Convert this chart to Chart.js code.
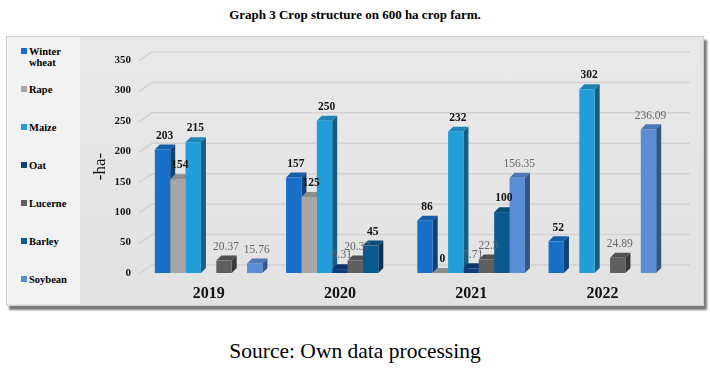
<!DOCTYPE html>
<html>
<head>
<meta charset="utf-8">
<script src="https://cdn.jsdelivr.net/npm/chart.js@4"></script>
<style>
  body { margin: 0; width: 710px; height: 371px; background: #fff; position: relative; overflow: hidden; font-family: "Liberation Serif", serif; }
  #naslov { position: absolute; left: 0; width: 710px; top: 7px; text-align: center; font-weight: bold; font-size: 13px; }
  #okvir { position: absolute; left: 6px; top: 36px; width: 696px; height: 268px; background: #e4e4e4; border: 1px solid #cfcfcf; box-shadow: 3px 4px 2px #7a7a7a; }
  #legenda { position: absolute; left: 7px; top: 37px; width: 73px; height: 267px; background: #f2f2f2; }
  #ploca { position: absolute; left: 80px; top: 40px; width: 620px; height: 264px; background: linear-gradient(#e9e9e9, #e2e2e2); }
  .stavka { position: absolute; left: 14px; font-size: 10.5px; font-weight: bold; line-height: 11px; }
  .kvadrat { display: inline-block; width: 6px; height: 6px; margin-right: 2px; vertical-align: 1px; }
  #izvor { position: absolute; left: 0; width: 710px; top: 339px; text-align: center; font-size: 21.5px; }
</style>
</head>
<body>
<div id="naslov">Graph 3 Crop structure on 600 ha crop farm.</div>
<div id="okvir"></div>
<div id="legenda"></div>
<div id="ploca"><canvas id="graf" width="620" height="264"></canvas></div>
<div id="izvor">Source: Own data processing</div>
<script>
// Godine (kategorije)
const godine = ['2019', '2020', '2021', '2022'];

// Kulture i njihove površine u ha
const kulture = ['Winter wheat', 'Rape', 'Maize', 'Oat', 'Lucerne', 'Barley', 'Soybean'];
const ozimaPsenica = [203, 157, 86, 52];
const uljanaRepica = [154, 125, 0, null];
const kukuruz = [215, 250, 232, 302];
const zob = [null, 6.31, 7.71, null];
const lucerna = [20.37, 20.37, 22.3, 24.89];
const jecam = [null, 45, 100, null];
const soja = [15.76, null, 156.35, 236.09];

const yOznake = [0, 50, 100, 150, 200, 250, 300, 350];

const boje = ['#176fc8', '#a6a6a6', '#239dd9', '#0f3e7c', '#5f5f5f', '#0b5a8e', '#5a8dd6'];
// crne podebljane oznake ili sive
const crneOznake = [true, true, true, false, false, true, false];

const serije = [ozimaPsenica, uljanaRepica, kukuruz, zob, lucerna, jecam, soja];

// Legenda lijevo
const legendaEl = document.getElementById('legenda');
const legendaY = [9, 47, 85, 123, 161, 199, 237];
kulture.forEach((k, i) => {
    const d = document.createElement('div');
    d.className = 'stavka';
    d.style.top = legendaY[i] + 'px';
    const tekst = k === 'Winter wheat' ? 'Winter<br>&nbsp;&nbsp;&nbsp;wheat' : k;
    d.innerHTML = '<span class="kvadrat" style="background:' + boje[i] + '"></span>' + tekst;
    legendaEl.appendChild(d);
});

function potamni(hex, f) {
    const n = parseInt(hex.slice(1), 16);
    const r = Math.round(((n >> 16) & 255) * f), g = Math.round(((n >> 8) & 255) * f), b = Math.round((n & 255) * f);
    return 'rgb(' + Math.min(r, 255) + ',' + Math.min(g, 255) + ',' + Math.min(b, 255) + ')';
}

const DUB = 5;

// Perspektivne linije mreže
const mreza = {
    id: 'mreza',
    beforeDatasetsDraw(chart) {
        const { ctx, chartArea, scales } = chart;
        ctx.save();
        ctx.strokeStyle = '#d2d2d2';
        ctx.lineWidth = 1.5;
        yOznake.forEach(v => {
            const y = scales.y.getPixelForValue(v);
            ctx.beginPath();
            ctx.moveTo(chartArea.left - 4, y + 1);
            ctx.lineTo(chartArea.left + 9, y - 8);
            ctx.lineTo(chartArea.right + 22, y - 8);
            ctx.stroke();
        });
        ctx.restore();
    }
};

// 3D plohe (vrh i bok) crtaju se prije prednjih ploha, redom po serijama
const treciD = {
    id: 'treciD',
    beforeDatasetsDraw(chart) {
        const ctx = chart.ctx;
        ctx.save();
        chart.data.datasets.forEach((ds, i) => {
            const meta = chart.getDatasetMeta(i);
            meta.data.forEach((bar, j) => {
                if (ds.data[j] === null) return;
                const w = bar.width, x0 = bar.x - w / 2, x1 = bar.x + w / 2;
                const y = bar.y, b = bar.base;
                ctx.fillStyle = potamni(boje[i], 0.85);
                ctx.beginPath();
                ctx.moveTo(x0, y); ctx.lineTo(x0 + DUB, y - DUB); ctx.lineTo(x1 + DUB, y - DUB); ctx.lineTo(x1, y);
                ctx.closePath(); ctx.fill();
                ctx.fillStyle = potamni(boje[i], 0.6);
                ctx.beginPath();
                ctx.moveTo(x1, y); ctx.lineTo(x1 + DUB, y - DUB); ctx.lineTo(x1 + DUB, b - DUB); ctx.lineTo(x1, b);
                ctx.closePath(); ctx.fill();
            });
        });
        ctx.restore();
    },
    afterDatasetsDraw(chart) {
        const ctx = chart.ctx;
        ctx.save();
        chart.data.datasets.forEach((ds, i) => {
            const meta = chart.getDatasetMeta(i);
            meta.data.forEach((bar, j) => {
                const v = ds.data[j];
                if (v === null) return;
                ctx.font = (crneOznake[i] ? 'bold ' : '') + '11.5px "Liberation Serif"';
                ctx.fillStyle = crneOznake[i] ? '#111' : '#666';
                ctx.textAlign = 'center';
                ctx.textBaseline = 'bottom';
                ctx.fillText(String(v), bar.x + 2, bar.y - 8);
            });
        });
        ctx.restore();
    }
};

new Chart(document.getElementById('graf'), {
    type: 'bar',
    data: {
        labels: godine,
        datasets: kulture.map((k, i) => ({
            label: k,
            data: serije[i],
            backgroundColor: boje[i],
            categoryPercentage: 0.82,
            barPercentage: 1
        }))
    },
    options: {
        responsive: false,
        animation: false,
        layout: { padding: { top: 20, right: 32 } },
        plugins: { legend: { display: false }, tooltip: { enabled: false } },
        scales: {
            x: {
                grid: { display: false, drawTicks: false },
                border: { display: false },
                ticks: { color: '#111', font: { family: 'Liberation Serif', size: 16, weight: 'bold' }, padding: 11 },
                afterFit(s) { s.height = 31; }
            },
            y: {
                min: 0, max: 350,
                afterBuildTicks(s) { s.ticks = yOznake.map(v => ({ value: v })); },
                grid: { display: false, drawTicks: false },
                border: { display: false },
                ticks: { color: '#111', font: { family: 'Liberation Serif', size: 11, weight: 'bold' }, padding: 12 },
                title: { display: true, text: '-ha-', color: '#111', font: { family: 'Liberation Serif', size: 17 }, padding: { top: 10, bottom: 0 } },
                afterFit(s) { s.width = 63; }
            }
        }
    },
    plugins: [mreza, treciD]
});
</script>
</body>
</html>
